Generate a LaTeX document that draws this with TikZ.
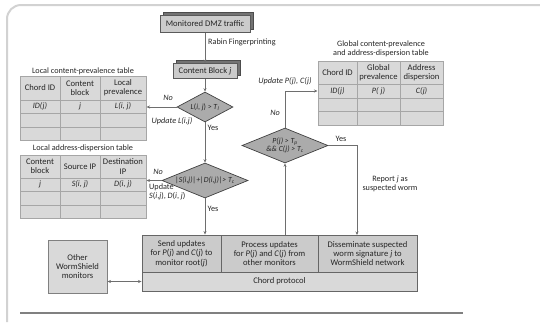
\documentclass[tikz,border=0pt]{standalone}
\usepackage{fontspec}
\setmainfont{Carlito}
\usetikzlibrary{shapes.geometric,shadows,arrows.meta,calc}
\definecolor{framegray}{HTML}{D2D2D2}
\definecolor{cellfill}{HTML}{D9D9D9}
\definecolor{gridgray}{HTML}{A6A6A6}
\definecolor{boxfill}{HTML}{CBCBCB}
\definecolor{boxedge}{HTML}{5A5A5A}
\definecolor{diafill}{HTML}{ABABAB}
\definecolor{linegray}{HTML}{6E6E6E}
\begin{document}
\begin{tikzpicture}[x=1pt,y=-1pt,
  font=\fontsize{8.6}{9.4}\selectfont,
  every node/.style={inner sep=0pt, text=black!85},
  flowbox/.style={rectangle, draw=boxedge, fill=boxfill, line width=0.8pt,
    copy shadow={shadow xshift=3pt, shadow yshift=3pt, fill=black!55, draw=black!70}},
  decision/.style={diamond, draw=black!75, fill=diafill, line width=0.7pt},
  tbl/.style={rectangle, draw=gridgray, fill=cellfill, line width=1pt},
  tblgrid/.style={draw=gridgray, line width=1pt},
  cell/.style={rectangle, draw=black!60, fill=boxfill, line width=0.9pt, align=center},
  flow/.style={draw=linegray, line width=0.9pt, -{Stealth[length=3.5pt,width=3pt]}},
  lbl/.style={font=\fontsize{8.2}{9}\selectfont},
  ilbl/.style={font=\fontsize{8.2}{9}\selectfont\itshape}
]
\useasboundingbox (0,0) rectangle (540,322);

% outer frame of the figure panel
\draw[framegray, line width=2pt, rounded corners=14pt] (7,322) -- (7,5) -- (540,5);

% ---------- main column ----------
\node[flowbox, minimum width=90, minimum height=17] (dmz) at (205,24) {Monitored DMZ traffic};
\node[flowbox, minimum width=64, minimum height=15] (blk) at (205,71) {Content Block \textit{j}};
\node[decision, minimum width=56, minimum height=30] (d1) at (205,107) {};
\node[font=\fontsize{7.8}{9}\selectfont] at (d1) {\textit{L}(\textit{i}, \textit{j}) > \textit{T}\textsubscript{\textit{l}}};
\node[decision, minimum width=86, minimum height=35] (d2) at (205,180.5) {};
\node[font=\fontsize{7.8}{9}\selectfont\itshape] at (d2) {|S(i,j)|+|D(i,j)|> T\textsubscript{c}};
\node[decision, minimum width=86, minimum height=35] (d3) at (285,145.5) {};
\node[font=\fontsize{7.8}{8.6}\selectfont\itshape, align=center] at (d3) {P(j) > T\textsubscript{p}\\\&\& C(j) > T\textsubscript{c}};

% ---------- local content-prevalence table ----------
\node[lbl] at (83,71) {Local content-prevalence table};
\node[tbl, minimum width=126, minimum height=64] (lct) at (83,108) {};
\draw[tblgrid] (60,76) -- (60,140) (100,76) -- (100,140)
  (20,100) -- (146,100) (20,113) -- (146,113) (20,127) -- (146,127);
\node[align=center] at (40,88) {Chord ID};
\node[align=center] at (80,88) {Content\\block};
\node[align=center] at (123,88) {Local\\prevalence};
\node[ilbl] at (40,106.5) {ID(j)};
\node[ilbl] at (80,106.5) {j};
\node[ilbl] at (123,106.5) {L(i, j)};

% ---------- local address-dispersion table ----------
\node[lbl] at (83,148) {Local address-dispersion table};
\node[tbl, minimum width=126, minimum height=63] (lat) at (83,186.5) {};
\draw[tblgrid] (60,155) -- (60,218) (100,155) -- (100,218)
  (20,178) -- (146,178) (20,191) -- (146,191) (20,205) -- (146,205);
\node[align=center] at (40,166.5) {Content\\block};
\node[align=center] at (80,166.5) {Source IP};
\node[align=center] at (123,166.5) {Destination\\IP};
\node[ilbl] at (40,184.5) {j};
\node[ilbl] at (80,184.5) {S(i, j)};
\node[ilbl] at (123,184.5) {D(i, j)};

% ---------- global table ----------
\node[lbl, align=center] at (381,48.5) {Global content-prevalence\\and address-dispersion table};
\node[tbl, minimum width=125, minimum height=64] (gt) at (380.5,93) {};
\draw[tblgrid] (357,61) -- (357,125) (400,61) -- (400,125)
  (318,84) -- (443,84) (318,98) -- (443,98) (318,111) -- (443,111);
\node[align=center] at (337.5,72.5) {Chord ID};
\node[align=center] at (378.5,72.5) {Global\\prevalence};
\node[align=center] at (421.5,72.5) {Address\\dispersion};
\node[ilbl] (gid) at (337.5,91) {ID(j)};
\node[ilbl] at (378.5,91) {P( j)};
\node[ilbl] at (421.5,91) {C(j)};

% ---------- Chord protocol block ----------
\node[cell, minimum width=79, minimum height=37] (send) at (181.5,253.5)
  {Send updates\\for \textit{P}(\textit{j}) and \textit{C}(\textit{j}) to\\monitor root(\textit{j})};
\node[cell, minimum width=97, minimum height=37] (proc) at (269.5,253.5)
  {Process updates\\for \textit{P}(\textit{j}) and \textit{C}(\textit{j}) from\\other monitors};
\node[cell, minimum width=99, minimum height=37] (diss) at (367.5,253.5)
  {Disseminate suspected\\worm signature \textit{j} to\\WormShield network};
\node[cell, fill=cellfill, minimum width=275, minimum height=19] (chord) at (279.5,281.5) {Chord protocol};
\node[cell, fill=cellfill, draw=black!50, minimum width=59, minimum height=53] (other) at (77.5,266.5)
  {Other\\WormShield\\monitors};
\coordinate (rep) at (357,235);

% ---------- connectors ----------
\draw[flow] (dmz) -- (blk);
\draw[flow] (blk) -- (d1);
\draw[flow] (d1.west) -- (d1.west -| lct.east);
\draw[flow] (d1.south) -- (d2.north);
\draw[flow] (d2.west) -- (d2.west -| lat.east);
\draw[flow] (d2.south) -- (d2.south |- send.north);
\draw[flow] (d3.south |- proc.north) -- (d3.south);
\draw[flow] (d3.north) |- (gt.west |- gid);
\draw[flow] (d3.east) -| (rep);
\draw[draw=linegray, line width=0.9pt, {Stealth[length=3.5pt,width=3pt]}-{Stealth[length=3.5pt,width=3pt]}]
  (other.east |- chord.west) -- (chord.west);

% ---------- connector labels ----------
\node[lbl, anchor=west] at (208,42) {Rabin Fingerprinting};
\node[ilbl] at (168,98) {No};
\node[ilbl] at (172,121) {Update L(i,j)};
\node[lbl] at (213,128) {Yes};
\node[ilbl] at (158,172) {No};
\node[lbl, anchor=north west, align=left] at (149,184) {Update\\\textit{S}(\textit{i},\textit{j}), \textit{D}(\textit{i}, \textit{j})};
\node[lbl] at (213,209) {Yes};
\node[ilbl] at (285,81) {Update P(j), C(j)};
\node[ilbl] at (275,113) {No};
\node[lbl] at (341,139) {Yes};
\node[lbl, align=center] at (390,184) {Report \textit{j} as\\suspected worm};

% caption rule
\draw[black!50, line width=1.5pt] (20,313) -- (463,313);
\end{tikzpicture}
\end{document}
